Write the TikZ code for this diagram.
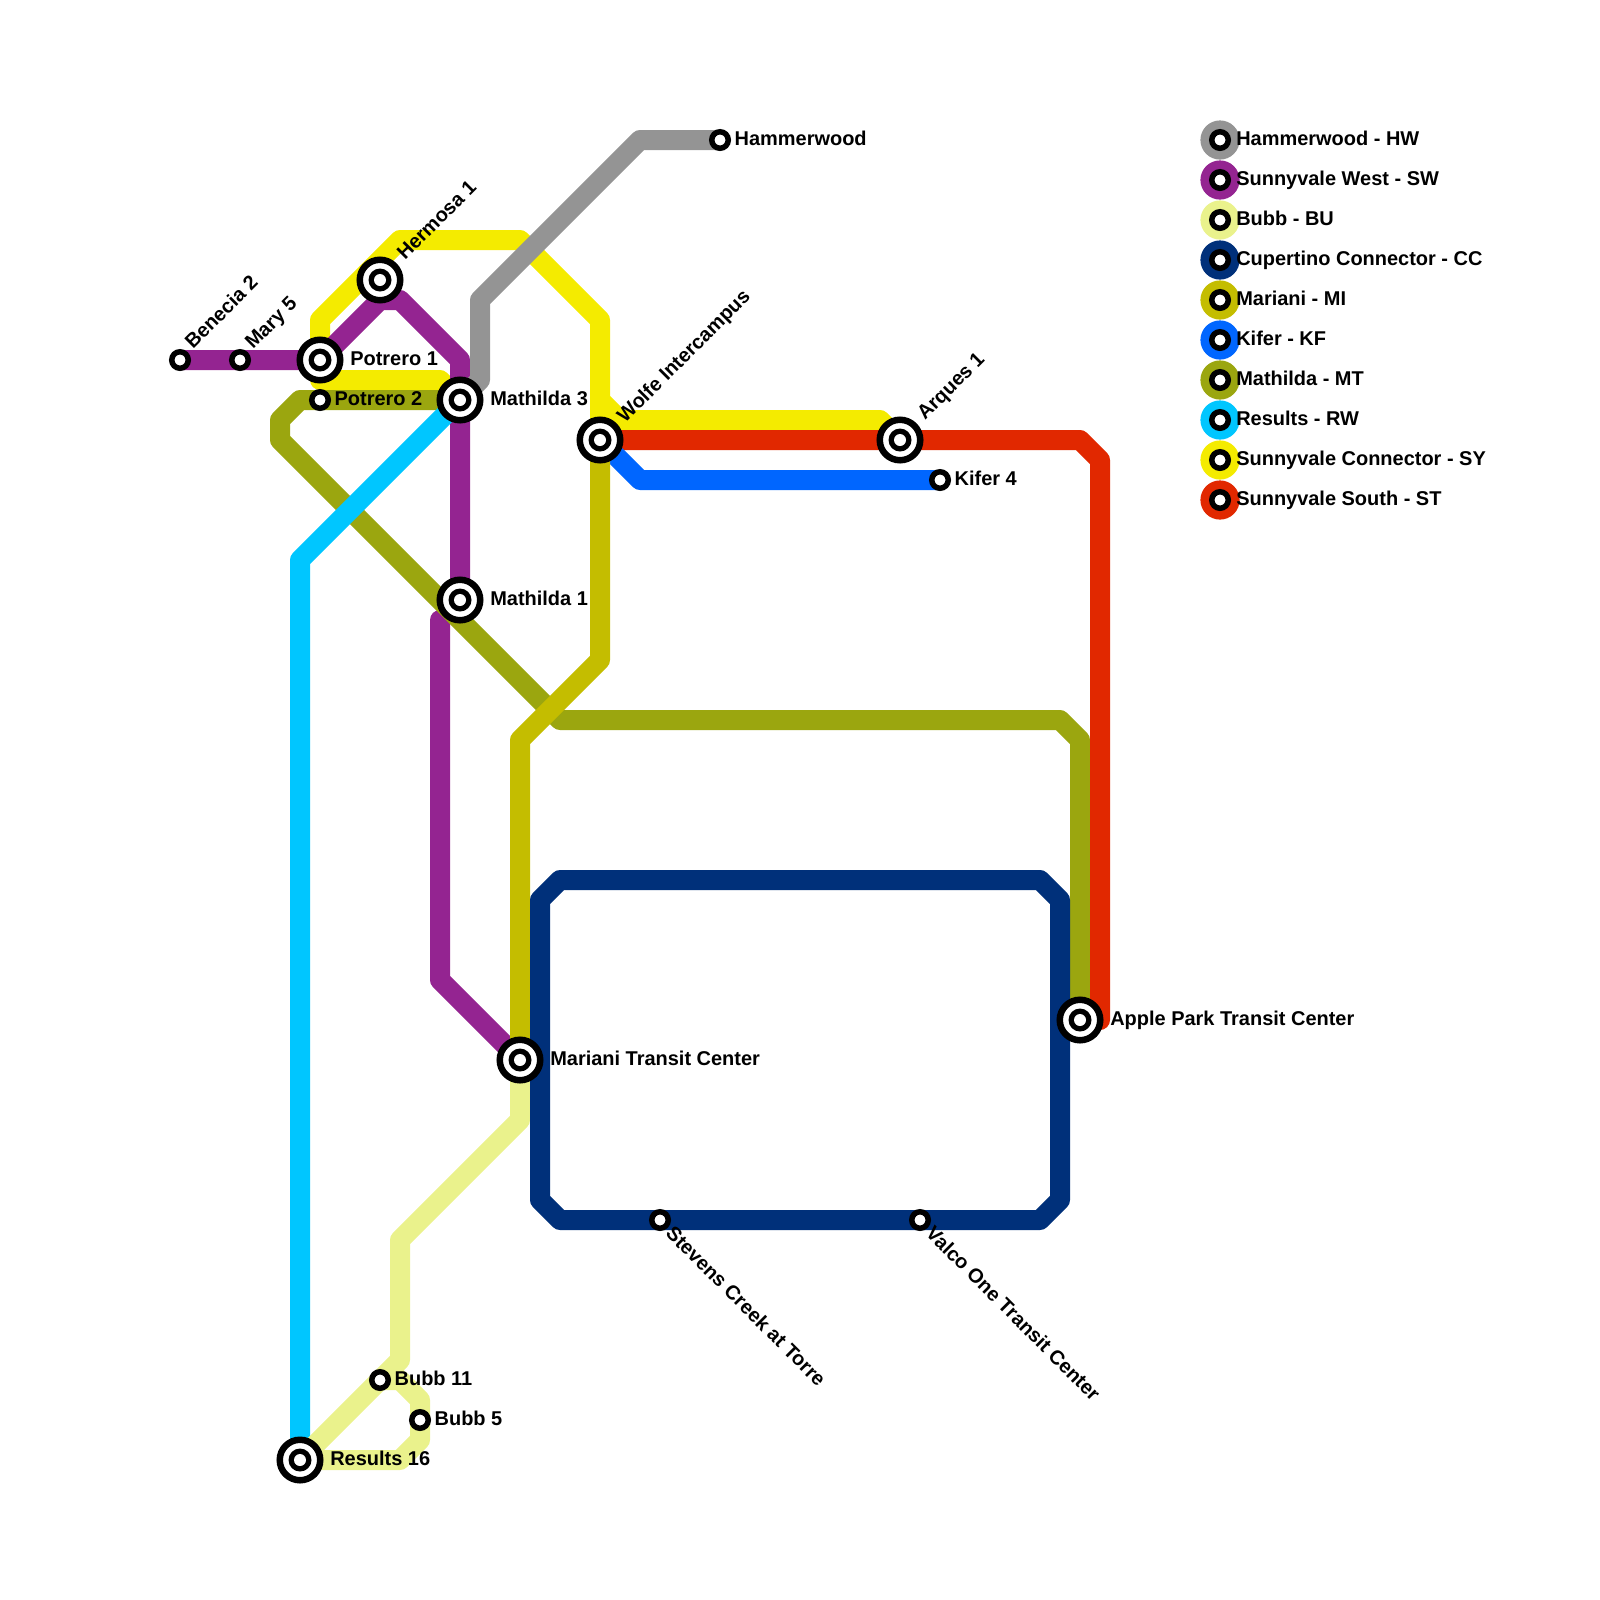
\documentclass[tikz,border=0pt]{standalone}
\usepackage{fontspec}
\setmainfont{Liberation Sans}
\definecolor{cHW}{HTML}{949494}
\definecolor{cSW}{HTML}{942491}
\definecolor{cBU}{HTML}{EAF28C}
\definecolor{cCC}{HTML}{00307A}
\definecolor{cMI}{HTML}{C4BD00}
\definecolor{cKF}{HTML}{0066FF}
\definecolor{cMT}{HTML}{9BA60F}
\definecolor{cRW}{HTML}{00C6FF}
\definecolor{cSY}{HTML}{F4EB00}
\definecolor{cST}{HTML}{E12800}
\tikzset{
  ic/.style={circle, draw=black, line width=0.1625cm, fill=white, minimum size=1.0125cm, inner sep=0pt,
    path picture={\fill[black] (path picture bounding box.center) circle (0.2875cm);
                  \fill[white] (path picture bounding box.center) circle (0.15cm);}},
  st/.style={circle, draw=black, line width=0.1375cm, fill=white, minimum size=0.4125cm, inner sep=0pt},
  lbl/.style={font=\bfseries\fontsize{14.2}{16}\selectfont, inner sep=0pt, text=black},
  ln/.style={line width=0.5cm, line join=round, line cap=round},
  legdisk/.style={circle, fill=#1, minimum size=0.98cm, inner sep=0pt},
}
\begin{document}
\begin{tikzpicture}[x=0.5cm, y=-0.5cm]
\useasboundingbox (0,0) rectangle (80,80);
% station coordinates
\coordinate (benecia) at (9,18);
\coordinate (mary) at (12,18);
\coordinate (potrero1) at (16,18);
\coordinate (potrero2) at (16,20);
\coordinate (hermosa) at (19,14);
\coordinate (mathilda3) at (23,20);
\coordinate (mathilda1) at (23,30);
\coordinate (wolfe) at (30,22);
\coordinate (arques) at (45,22);
\coordinate (kifer) at (47,24);
\coordinate (hammer) at (36,7);
\coordinate (mariani) at (26,53);
\coordinate (apple) at (54,51);
\coordinate (stevens) at (33,61);
\coordinate (valco) at (46,61);
\coordinate (bubb11) at (19,69);
\coordinate (bubb5) at (21,71);
\coordinate (results) at (15,73);
\coordinate (purplestub) at (22,31);

% lines
\draw[ln, cSY] (mathilda3) -- (22,19) -- (16,19) -- (16,16) -- (20,12) -- (26,12) -- (30,16) -- (30,20) -- (31,21) -- (44,21) -- (arques);
\draw[ln, cSY] (30,20) -- (30,21.5);
\draw[ln, cSW] (benecia) -- (mary) -- (potrero1) -- (19,15) -- (20,15) -- (23,18) -- (mathilda3) -- (mathilda1);
\draw[ln, cSW] (purplestub) -- (22,49) -- (mariani);
\draw[ln, cMT] (mathilda3) -- (potrero2) -- (15,20) -- (14,21) -- (14,22) -- (28,36) -- (53,36) -- (54,37) -- (apple);
\draw[ln, cST] (wolfe) -- (54,22) -- (55,23) -- (55,51) -- (apple);
\draw[ln, cKF] (wolfe) -- (32,24) -- (kifer);
\draw[ln, cRW] (mathilda3) -- (15,28) -- (results);
\draw[ln, cMI] (wolfe) -- (30,33) -- (26,37) -- (mariani);
\draw[ln, cHW] (mathilda3) -- (24,19) -- (24,15) -- (32,7) -- (hammer);
\draw[ln, cBU] (mariani) -- (26,56) -- (20,62) -- (20,68) -- (bubb11) -- (results) -- (20,73) -- (21,72) -- (bubb5) -- (21,70) -- (20,69) -- (bubb11);
\draw[ln, cCC] (27,45) -- (28,44) -- (52,44) -- (53,45) -- (53,60) -- (52,61) -- (stevens) -- (28,61) -- (27,60) -- cycle;

% stations
\node[st] (sBenecia) at (benecia) {};
\node[st] (sMary) at (mary) {};
\node[ic] (sPotrero1) at (potrero1) {};
\node[st] (sPotrero2) at (potrero2) {};
\node[ic] (sHermosa) at (hermosa) {};
\node[ic] (sMathilda3) at (mathilda3) {};
\node[ic] (sMathilda1) at (mathilda1) {};
\node[ic] (sWolfe) at (wolfe) {};
\node[ic] (sArques) at (arques) {};
\node[st] (sKifer) at (kifer) {};
\node[st] (sHammer) at (hammer) {};
\node[ic] (sMariani) at (mariani) {};
\node[ic] (sApple) at (apple) {};
\node[st] (sStevens) at (stevens) {};
\node[st] (sValco) at (valco) {};
\node[st] (sBubb11) at (bubb11) {};
\node[st] (sBubb5) at (bubb5) {};
\node[ic] (sResults) at (results) {};

% labels
\node[lbl, rotate=45, anchor=base west] (lBenecia) at (9.65,17.5) {Benecia 2};
\node[lbl, rotate=45, anchor=base west] (lMary) at (12.65,17.5) {Mary 5};
\node[lbl, rotate=45, anchor=base west] (lHermosa) at (20.25,13.05) {Hermosa 1};
\node[lbl, rotate=45, anchor=base west] (lWolfe) at (31.25,21.2) {Wolfe Intercampus};
\node[lbl, rotate=45, anchor=base west] (lArques) at (46.25,21.05) {Arques 1};
\node[lbl, anchor=base west] (lPotrero1) at (17.5,18.27) {Potrero 1};
\node[lbl, anchor=base west] (lPotrero2) at (16.72,20.25) {Potrero 2};
\node[lbl, anchor=base west] (lMathilda3) at (24.5,20.25) {Mathilda 3};
\node[lbl, anchor=base west] (lMathilda1) at (24.5,30.25) {Mathilda 1};
\node[lbl, anchor=base west] (lHammer) at (36.72,7.25) {Hammerwood};
\node[lbl, anchor=base west] (lKifer) at (47.72,24.25) {Kifer 4};
\node[lbl, anchor=base west] (lMariani) at (27.5,53.25) {Mariani Transit Center};
\node[lbl, anchor=base west] (lApple) at (55.5,51.25) {Apple Park Transit Center};
\node[lbl, anchor=base west] (lBubb11) at (19.72,69.25) {Bubb 11};
\node[lbl, anchor=base west] (lBubb5) at (21.72,71.25) {Bubb 5};
\node[lbl, anchor=base west] (lResults) at (16.5,73.25) {Results 16};
\node[lbl, rotate=-45, anchor=north west] (lStevens) at (33.75,61.2) {Stevens Creek at Torre};
\node[lbl, rotate=-45, anchor=north west] (lValco) at (46.75,61.2) {Valco One Transit Center};

% legend
\foreach \c/\t [count=\i from 0] in {cHW/Hammerwood - HW, cSW/Sunnyvale West - SW, cBU/Bubb - BU, cCC/Cupertino Connector - CC, cMI/Mariani - MI, cKF/Kifer - KF, cMT/Mathilda - MT, cRW/Results - RW, cSY/Sunnyvale Connector - SY, cST/Sunnyvale South - ST}{
  \node[legdisk=\c] (legdisk\i) at (61,7+2*\i) {};
  \node[st] (legst\i) at (61,7+2*\i) {};
  \node[lbl, anchor=base west] (legtxt\i) at (61.8,7.25+2*\i) {\t};
}
\end{tikzpicture}
\end{document}
